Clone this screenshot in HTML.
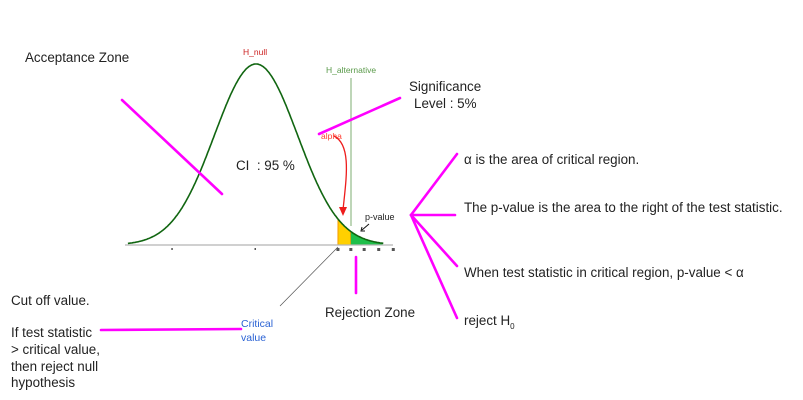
<!DOCTYPE html>
<html><head><meta charset="utf-8"><style>
html,body{margin:0;padding:0;background:#fff;}
svg{display:block;font-family:"Liberation Sans",sans-serif;}
</style></head><body>
<svg id="c" width="803" height="400" viewBox="0 0 803 400">
<text x="25" y="62" font-size="13.4" fill="#222">Acceptance Zone</text>
<text x="243" y="55" font-size="8.5" fill="#cc2222">H_null</text>
<text x="326" y="73" font-size="8.5" fill="#5a9a4a">H_alternative</text>
<line x1="351" y1="78" x2="351" y2="226" stroke="#a9c9a0" stroke-width="1.5"/>
<text x="409" y="91" font-size="13.4" fill="#222">Significance</text>
<text x="414" y="108" font-size="13.4" fill="#222">Level : 5%</text>
<g id="plot"></g>
<text x="236" y="170" font-size="13.4" fill="#222">CI &#160;: 95 %</text>
<text x="321" y="139" font-size="8.5" fill="#ff3b30">alpha</text>
<path d="M334,136 C352,145 346,180 343,210" fill="none" stroke="#ee1c1c" stroke-width="1.3"/>
<polygon points="339,207 347,207 343,216" fill="#ee1c1c"/>
<text x="365" y="220" font-size="9" fill="#222">p-value</text>
<line x1="369" y1="224" x2="362" y2="230" stroke="#111" stroke-width="1"/>
<polyline points="362,227 361,231 365,231" fill="none" stroke="#111" stroke-width="1"/>
<line x1="338" y1="247" x2="280" y2="306" stroke="#555" stroke-width="0.7"/>
<text x="241" y="327" font-size="10.5" fill="#2a62d4">Critical</text>
<text x="241" y="341" font-size="10.5" fill="#2a62d4">value</text>
<text x="325" y="317" font-size="13.4" fill="#222">Rejection Zone</text>
<g font-size="13.4" fill="#222">
<text x="11" y="305">Cut off value.</text>
<text x="11" y="337">If test statistic</text>
<text x="11" y="354">&gt; critical value,</text>
<text x="11" y="371">then reject null</text>
<text x="11" y="387">hypothesis</text>
<text x="464" y="164">α is the area of critical region.</text>
<text x="464" y="212">The p-value is the area to the right of the test statistic.</text>
<text x="464" y="277">When test statistic in critical region, p-value &lt; α</text>
<text x="464" y="325">reject H<tspan font-size="8" dy="4">0</tspan></text>
</g>
<g stroke="#ff00ff" stroke-width="2.6" stroke-linecap="round">
<line x1="122" y1="100" x2="222" y2="194"/>
<line x1="319" y1="134" x2="400" y2="98"/>
<line x1="356" y1="257" x2="356" y2="293"/>
<line x1="101" y1="330" x2="241" y2="329"/>
<line x1="411" y1="215" x2="457" y2="154"/>
<line x1="411" y1="215" x2="455" y2="215"/>
<line x1="411" y1="215" x2="457" y2="266"/>
<line x1="411" y1="215" x2="457" y2="318"/>
</g>
</svg>
<script>
const mean = [0];
const sd = [1];
const critical = [1.97];
const testStat = [2.28];
const xTicks = [-2, 0, 2, 2.28, 2.6, 2.95, 3.3];
const peakLabels = ["H_null"];
const NS = "http://www.w3.org/2000/svg";
const sx = z => 256 + z * 41.6;
const dens = z => Math.exp(-Math.pow((z - mean[0]) / sd[0], 2) / 2);
const sy = d => 245 - d * 181;
const g = document.getElementById('plot');
function mk(t, a){const e=document.createElementNS(NS,t);for(const k in a)e.setAttribute(k,a[k]);g.appendChild(e);return e;}
function area(z0,z1,fill,stroke,name){
  let d=`M${sx(z0)},245`;
  for(let z=z0;z<=z1+1e-9;z+=0.02)d+=` L${sx(z).toFixed(1)},${sy(dens(z)).toFixed(1)}`;
  d+=` L${sx(z1)},245 Z`;
  const e=mk('path',{d,fill,stroke,'stroke-width':1});
  
  
}
area(critical[0], testStat[0], '#ffd000', '#f59a00', 'alpha-region');
area(testStat[0], 3.05, '#1fbf4a', 'none', 'p-value-region');
const ax=mk('line',{x1:125,y1:245,x2:393,y2:245,stroke:'#b5b5b5','stroke-width':1.2});


xTicks.forEach((t,i)=>{
  const r=mk('rect',{x:sx(t)-1.5,y:248,width:i>=3?3:1.5,height:i>=3?3:2,fill:'#555'});
  
  
});
const cr=mk('rect',{x:sx(critical[0])-1.5,y:248,width:3,height:3,fill:'#555'});


let d='';
for(let z=-3.08;z<=3.08;z+=0.02)d+=(d?' L':'M')+sx(z).toFixed(1)+','+sy(dens(z)).toFixed(1);
const cv=mk('path',{d,fill:'none',stroke:'#116611','stroke-width':1.6});


</script>
</body></html>
